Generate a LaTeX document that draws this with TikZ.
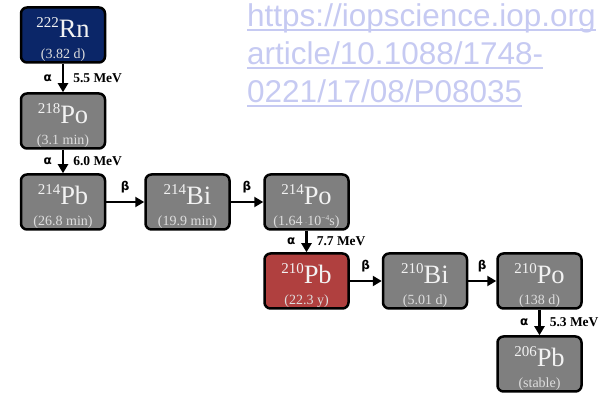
\documentclass[tikz,border=0pt]{standalone}
\usepackage{fontspec}
\setmainfont{Liberation Serif}
\newfontfamily\symfont{DejaVu Sans}
\newfontfamily\wmfont{Liberation Sans}
\usetikzlibrary{arrows.meta,calc}
\definecolor{navybox}{HTML}{0B2668}
\definecolor{redbox}{HTML}{B0403F}
\definecolor{graybox}{HTML}{7F7F7F}
\definecolor{maintxt}{HTML}{F2F2F2}
\definecolor{halftxt}{HTML}{DEDEDE}
\definecolor{wmcol}{HTML}{C6CAF2}
\tikzset{
  nbox/.style={draw=black, line width=2.5pt, rounded corners=6pt, minimum width=84pt, minimum height=55pt, inner sep=0pt},
  mtext/.style={text=maintxt, inner sep=0pt, font=\fontsize{26.5}{26.5}\selectfont},
  htext/.style={text=halftxt, inner sep=0pt, font=\fontsize{14}{14}\selectfont},
  arr/.style={line width=2.5pt, -{Triangle[length=9pt,width=10pt]}},
  glab/.style={font=\symfont\bfseries\fontsize{12}{12}\selectfont, inner sep=0pt},
  elab/.style={font=\bfseries\fontsize{13.5}{13.5}\selectfont, inner sep=0pt},
  wm/.style={text=wmcol, font=\wmfont\fontsize{31.5}{31.5}\selectfont, inner sep=0pt, anchor=base west},
}
\newcommand\nuc[7]{%
  \node[nbox, fill=#4] (#1) at (#2,#3) {};
  \node[mtext, anchor=base] (#1m) at ([yshift=-31pt]#1.north) {\raisebox{10pt}{\fontsize{15}{15}\selectfont #5}#6};
  \node[htext, anchor=base] (#1h) at ([yshift=-52pt]#1.north) {#7};
}
\newcommand\wmline[3]{%
  \node[wm] (#1) at (247,#2) {#3};
  \draw[wmcol, line width=1.8pt] ([yshift=-3pt]#1.base west) -- ([yshift=-3pt]#1.base east);
}
\begin{document}
\begin{tikzpicture}[x=1pt,y=1pt]
\useasboundingbox (0,0) rectangle (600,393);
% watermark
\wmline{w1}{366}{https://iopscience.iop.org}
\wmline{w2}{328}{article/10.1088/1748-}
\wmline{w3}{290}{0221/17/08/P08035}
% nuclides
\nuc{rn}{63}{358}{navybox}{222}{Rn}{(3.82 d)}
\nuc{poa}{63}{272}{graybox}{218}{Po}{(3.1 min)}
\nuc{pba}{63}{191}{graybox}{214}{Pb}{(26.8 min)}
\nuc{bia}{187.5}{191}{graybox}{214}{Bi}{(19.9 min)}
\nuc{pob}{306.5}{191}{graybox}{214}{Po}{(1.64\,{\fontsize{9}{9}\selectfont$\cdot$}10\raisebox{4.5pt}{\fontsize{7.5}{7.5}\selectfont −4}s)}
\nuc{pbb}{306.5}{112}{redbox}{210}{Pb}{(22.3 y)}
\nuc{bib}{425}{112}{graybox}{210}{Bi}{(5.01 d)}
\nuc{poc}{539.5}{112}{graybox}{210}{Po}{(138 d)}
\nuc{pbc}{539.5}{29}{graybox}{206}{Pb}{(stable)}
% decays
\draw[arr] (rn) -- node[glab, left=10pt] (l1) {α} node[elab, right=9pt] (m1) {5.5 MeV} (poa);
\draw[arr] (poa) -- node[glab, left=10pt] (l2) {α} node[elab, right=9pt] (m2) {6.0 MeV} (pba);
\draw[arr] (pba) -- node[glab, above=8pt] (l3) {β} (bia);
\draw[arr] (bia) -- node[glab, above=8pt] (l4) {β} (pob);
\draw[arr] (pob) -- node[glab, left=10pt] (l5) {α} node[elab, right=9pt] (m5) {7.7 MeV} (pbb);
\draw[arr] (pbb) -- node[glab, above=8pt] (l6) {β} (bib);
\draw[arr] (bib) -- node[glab, above=8pt] (l7) {β} (poc);
\draw[arr] (poc) -- node[glab, left=10pt] (l8) {α} node[elab, right=9pt] (m8) {5.3 MeV} (pbc);
\end{tikzpicture}
\end{document}
